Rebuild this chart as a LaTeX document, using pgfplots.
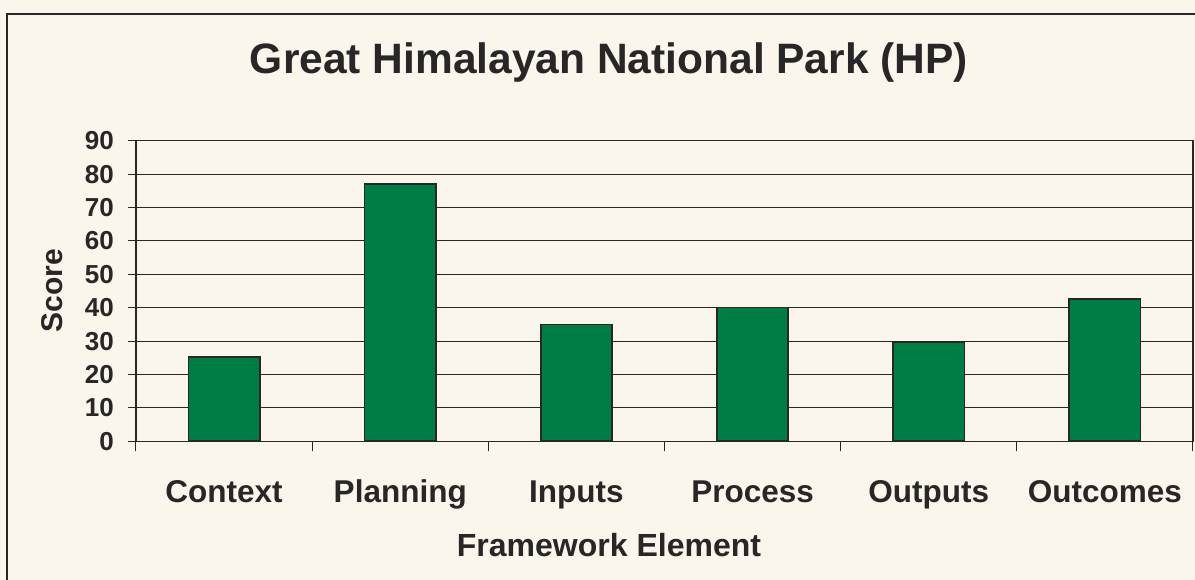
\documentclass[border=0pt]{standalone}
\usepackage{fontspec}
\setmainfont{Liberation Sans}
\usepackage{pgfplots}
\pgfplotsset{compat=1.18}
\definecolor{bgc}{RGB}{250,246,236}
\definecolor{barg}{RGB}{0,125,69}
\definecolor{edge}{RGB}{40,38,38}
\begin{document}
\begin{tikzpicture}[x=1pt,y=1pt]
\useasboundingbox (0,0) rectangle (1195,580);
\fill[bgc] (0,0) rectangle (1195,580);
\draw[edge,line width=1.6pt] (7,-5) -- (7,566) -- (1200,566);
\begin{axis}[
  at={(136pt,138.7pt)}, anchor=south west,
  scale only axis, width=1057pt, height=300.6pt,
  xmin=-0.5, xmax=5.5, ymin=0, ymax=90,
  ytick={0,10,...,90},
  xtick={0,...,5},
  xticklabels={Context,Planning,Inputs,Process,Outputs,Outcomes},
  major x tick style={draw=none},
  minor xtick={-0.5,0.5,...,5.5},
  xtick pos=bottom, ytick pos=left,
  tick align=outside,
  major tick length=8pt, minor tick length=10pt,
  tick style={edge, line width=1pt},
  ymajorgrids, grid style={edge, line width=1.1pt},
  axis line style={edge, line width=1.3pt},
  axis background/.style={fill=bgc},
  /pgf/number format/assume math mode=true,
  ticklabel style={font=\bfseries\fontsize{26}{30}\selectfont, text=edge},
  yticklabel style={anchor=east, inner sep=0pt, xshift=-14pt},
  xticklabel style={font=\bfseries\fontsize{31.5}{36}\selectfont, anchor=base, inner sep=0pt, yshift=-53pt},
  title={Great Himalayan National Park (HP)},
  title style={font=\bfseries\fontsize{42.5}{48}\selectfont, text=edge, at={(rel axis cs:0.4475,1)}, anchor=base, yshift=60.7pt, inner sep=0pt},
  xlabel={Framework Element},
  xlabel style={font=\bfseries\fontsize{32}{36}\selectfont, text=edge, at={(rel axis cs:0.4475,0)}, anchor=base, yshift=-115.7pt, inner sep=0pt},
  ylabel={Score},
  ylabel style={font=\bfseries\fontsize{30}{36}\selectfont, text=edge, at={(rel axis cs:0,0.5)}, anchor=base, yshift=73pt, inner sep=0pt},
  ybar, bar width=0.405,
]
\addplot[fill=barg, draw=edge, line width=1.6pt] coordinates {(0,25.2) (1,77.1) (2,35) (3,40.1) (4,29.8) (5,42.6)};
\end{axis}
\end{tikzpicture}
\end{document}
